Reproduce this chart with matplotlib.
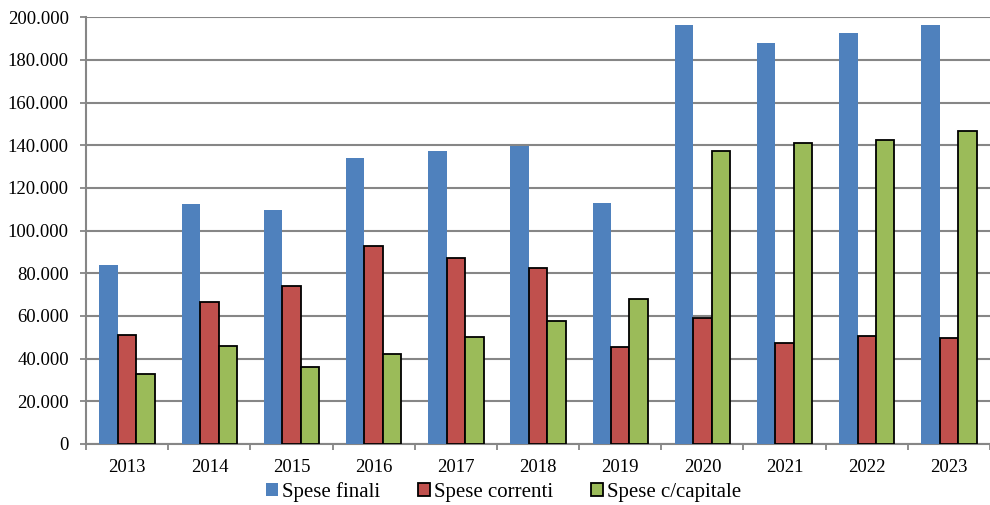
import numpy as np
import matplotlib.pyplot as plt
from matplotlib.ticker import FuncFormatter

plt.rcParams['font.family'] = ['Liberation Serif', 'DejaVu Serif']

# ---------------------------
# DATA (migliaia di euro)
# ---------------------------
years = ["2013", "2014", "2015", "2016", "2017", "2018", "2019", "2020", "2021", "2022", "2023"]
spese_finali = [83800, 112400, 109600, 134000, 137200, 139600, 112900, 196300, 187800, 192500, 196300]
spese_correnti = [51100, 66500, 74000, 92700, 87100, 82400, 45400, 59000, 47300, 50600, 49600]
spese_capitale = [32800, 45900, 36000, 42000, 50100, 57600, 67900, 137200, 141000, 142400, 146600]

# ---------------------------
# PLOT
# ---------------------------
fig = plt.figure(figsize=(9.9, 5.05), dpi=100)
ax = fig.add_axes([0.087, 0.121, 0.913, 0.845])

x = np.arange(len(years))
w = 0.225
grid_col = "#868686"
fs = 13.5

ax.bar(x - w, spese_finali, w, color="#4F81BD", label="Spese finali", zorder=3)
ax.bar(x, spese_correnti, w, color="#C0504D", edgecolor="black", linewidth=1.3,
       label="Spese correnti", zorder=3)
ax.bar(x + w, spese_capitale, w, color="#9BBB59", edgecolor="black", linewidth=1.3,
       label="Spese c/capitale", zorder=3)

# ---------------------------
# AXES
# ---------------------------
ax.set_xlim(-0.5, len(years) - 0.5)
ax.set_ylim(0, 200000)
ax.set_yticks(np.arange(0, 200001, 20000))
ax.yaxis.set_major_formatter(FuncFormatter(
    lambda v, p: "0" if v == 0 else f"{int(v):,}".replace(",", ".")))
ax.grid(axis="y", color=grid_col, linewidth=1.5, zorder=0)

ax.set_xticks(x)
ax.set_xticklabels(years)
ax.set_xticks(np.arange(-0.5, len(years)), minor=True)
ax.tick_params(axis="x", which="major", length=0, pad=11, labelsize=fs)
ax.tick_params(axis="x", which="minor", length=4.5, color=grid_col, width=1.3)
ax.tick_params(axis="y", length=4.5, color=grid_col, width=1.3, labelsize=fs, pad=8)

for side in ["top", "right"]:
    ax.spines[side].set_visible(False)
for side in ["left", "bottom"]:
    ax.spines[side].set_color(grid_col)
    ax.spines[side].set_linewidth(1.5)

ax.legend(loc="center", bbox_to_anchor=(0.462, -0.113), ncol=3, frameon=False,
          fontsize=15, handlelength=0.58, handleheight=0.58, handletextpad=0.2,
          columnspacing=1.8)

fig.savefig("out.png", dpi=100)
plt.close(fig)
